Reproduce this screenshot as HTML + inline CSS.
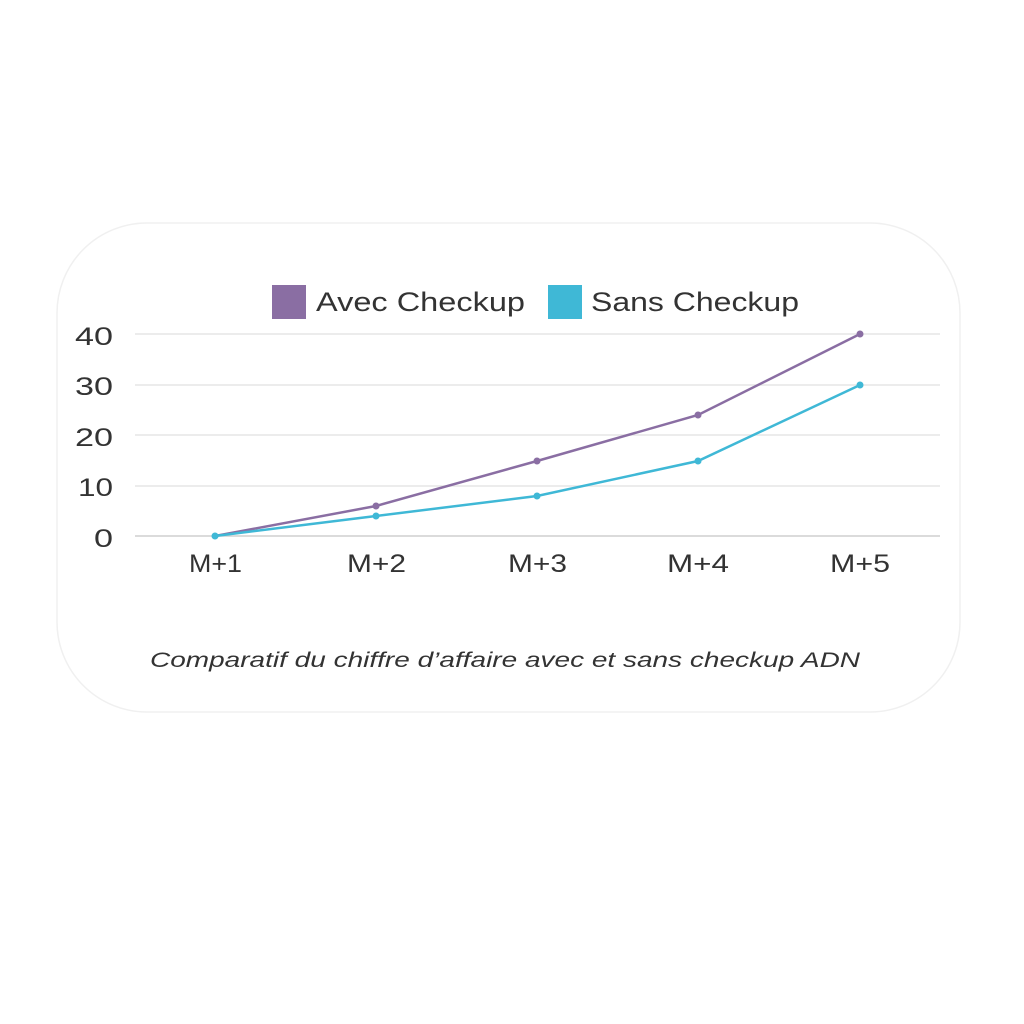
<!DOCTYPE html>
<html><head><meta charset="utf-8"><style>
html,body{margin:0;padding:0;background:#fff;width:1024px;height:1024px;overflow:hidden}
</style></head><body>
<svg width="1024" height="1024" viewBox="0 0 1024 1024" xmlns="http://www.w3.org/2000/svg" font-family="Liberation Sans, sans-serif">
<rect x="57" y="223" width="903" height="489" rx="90" ry="90" fill="#fff" stroke="#f0f0f0" stroke-width="1.5"/>
<g stroke="#e6e6e6" stroke-width="1.5">
<line x1="135" y1="334" x2="940" y2="334"/>
<line x1="135" y1="385" x2="940" y2="385"/>
<line x1="135" y1="435" x2="940" y2="435"/>
<line x1="135" y1="486" x2="940" y2="486"/>
</g>
<line x1="135" y1="536" x2="940" y2="536" stroke="#cfcfcf" stroke-width="1.5"/>
<g font-size="25" fill="#333">
<text x="75" y="345" textLength="38" lengthAdjust="spacingAndGlyphs">40</text>
<text x="75" y="395" textLength="38" lengthAdjust="spacingAndGlyphs">30</text>
<text x="75" y="446" textLength="38" lengthAdjust="spacingAndGlyphs">20</text>
<text x="78" y="496" textLength="35" lengthAdjust="spacingAndGlyphs">10</text>
<text x="94" y="547" textLength="19" lengthAdjust="spacingAndGlyphs">0</text>
</g>
<g font-size="25" fill="#333">
<text x="189" y="572" textLength="53" lengthAdjust="spacingAndGlyphs">M+1</text>
<text x="347" y="572" textLength="59" lengthAdjust="spacingAndGlyphs">M+2</text>
<text x="508" y="572" textLength="59" lengthAdjust="spacingAndGlyphs">M+3</text>
<text x="667" y="572" textLength="62" lengthAdjust="spacingAndGlyphs">M+4</text>
<text x="830" y="572" textLength="60" lengthAdjust="spacingAndGlyphs">M+5</text>
</g>
<polyline points="215,536 376,506 537,461 698,415 860,334" fill="none" stroke="#8a6ea3" stroke-width="2.5"/>
<polyline points="215,536 376,516 537,496 698,461 860,385" fill="none" stroke="#3fb8d6" stroke-width="2.5"/>
<g fill="#8a6ea3"><circle cx="376" cy="506" r="3.5"/><circle cx="537" cy="461" r="3.5"/><circle cx="698" cy="415" r="3.5"/><circle cx="860" cy="334" r="3.5"/></g>
<g fill="#3fb8d6"><circle cx="215" cy="536" r="3.5"/><circle cx="376" cy="516" r="3.5"/><circle cx="537" cy="496" r="3.5"/><circle cx="698" cy="461" r="3.5"/><circle cx="860" cy="385" r="3.5"/></g>
<rect x="272" y="285" width="34" height="34" fill="#8a6ea3"/>
<text x="316" y="311" font-size="27" fill="#333" textLength="209" lengthAdjust="spacingAndGlyphs">Avec Checkup</text>
<rect x="548" y="285" width="34" height="34" fill="#3fb8d6"/>
<text x="591" y="311" font-size="27" fill="#333" textLength="208" lengthAdjust="spacingAndGlyphs">Sans Checkup</text>
<text x="150" y="667" font-size="21" font-style="italic" fill="#333" textLength="710" lengthAdjust="spacingAndGlyphs">Comparatif du chiffre d’affaire avec et sans checkup ADN</text>
</svg>
</body></html>
